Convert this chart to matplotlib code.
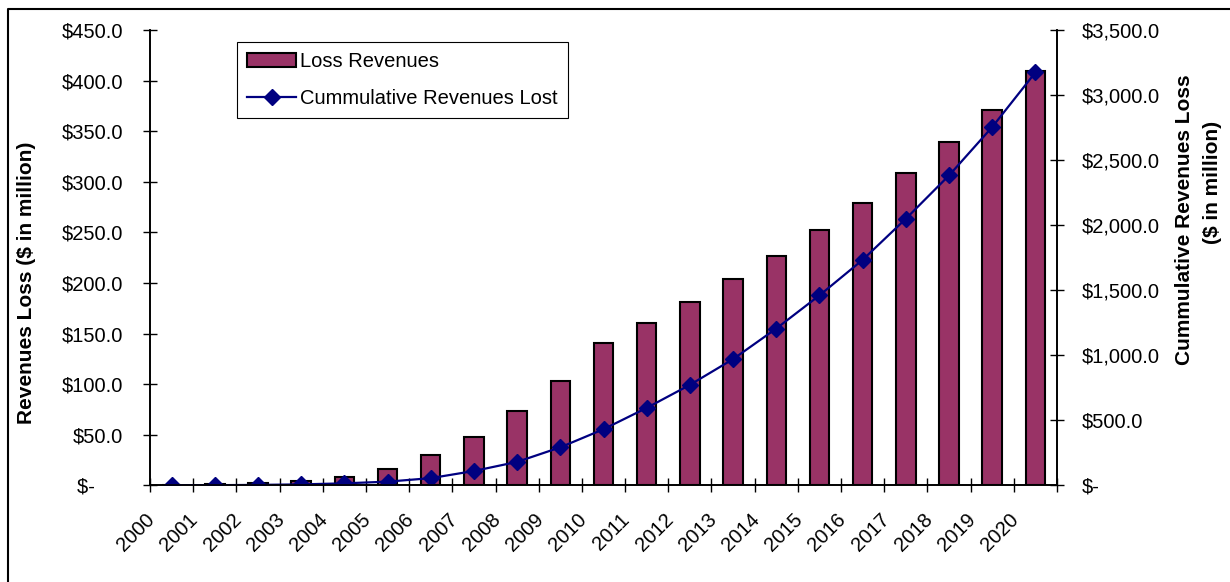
import numpy as np
import matplotlib.pyplot as plt
import matplotlib.transforms as mtransforms
from matplotlib.lines import Line2D

plt.rcParams['font.family'] = ['Liberation Sans', 'DejaVu Sans']

years = [str(y) for y in range(2000, 2021)]
loss_revenues = [0, 1.5, 2.5, 4.5, 8, 16.4, 30.2, 48, 73, 103, 140.5,
                 160.5, 181, 204, 227, 252, 279, 309, 339.5, 371, 409]
cumulative_lost = [0, 1, 3, 7, 15, 28, 55, 110, 180, 292, 431,
                   595, 772, 970, 1205, 1460, 1733, 2049, 2382, 2754, 3174]

left_ticks = [0, 50, 100, 150, 200, 250, 300, 350, 400, 450]
right_ticks = [0, 500, 1000, 1500, 2000, 2500, 3000, 3500]

bar_color = '#993366'
line_color = '#000080'
fs = 14.5
title_fs = 15

fig = plt.figure(figsize=(12.3, 5.82), dpi=100)
ax = fig.add_axes([150/1230, 1 - 485.3/582, 907/1230, 455.3/582])
ax2 = ax.twinx()

x = np.arange(len(years))
bars = ax.bar(x, loss_revenues, width=0.45, color=bar_color,
              edgecolor='black', linewidth=1.5, label='Loss Revenues', zorder=2)
line, = ax2.plot(x, cumulative_lost, color=line_color, lw=1.6, marker='D',
                 markersize=8, label='Cummulative Revenues Lost')

ax.set_xlim(-0.5, len(years) - 0.5)
ax.set_ylim(0, 450)
ax2.set_ylim(0, 3500)

def money(v):
    if v == 0:
        return '$-'
    return '${:,.1f}'.format(v)

ax.set_yticks(left_ticks)
ax.set_yticklabels([money(v) + ('\u00a0' * 5 if v == 0 else '') for v in left_ticks])
ax2.set_yticks(right_ticks)
ax2.set_yticklabels([money(v) for v in right_ticks])

# category labels at the centres, tick marks on the boundaries
ax.set_xticks(x)
ax.set_xticklabels(years, rotation=45, ha='right')
ax.set_xticks(np.arange(len(years) + 1) - 0.5, minor=True)
ax.tick_params(axis='x', which='major', length=0, pad=18, labelsize=fs)
ax.tick_params(axis='x', which='minor', direction='inout', length=10.5, width=1)
shift = mtransforms.ScaledTranslation(-13/100, 0, fig.dpi_scale_trans)
for lbl in ax.get_xticklabels():
    lbl.set_transform(lbl.get_transform() + shift)

ax.tick_params(axis='y', direction='inout', length=10, width=1, pad=14.4, labelsize=fs)
ax2.tick_params(axis='y', direction='inout', length=10, width=1, pad=13, labelsize=fs)

for a in (ax, ax2):
    a.spines['top'].set_visible(False)
    for s in ('left', 'right', 'bottom'):
        a.spines[s].set_linewidth(1.2)

fig.text(27/1230, 1 - 283/582, 'Revenues Loss ($ in million)', rotation=90,
         ha='center', va='center', fontsize=title_fs, fontweight='bold')
fig.text(1184/1230, 1 - 220/582, 'Cummulative Revenues Loss', rotation=90,
         ha='center', va='center', fontsize=title_fs, fontweight='bold')
fig.text(1213/1230, 1 - 182/582, '($ in million)', rotation=90,
         ha='center', va='center', fontsize=title_fs, fontweight='bold')

leg = ax2.legend(handles=[bars, line], loc='upper left',
                 bbox_to_anchor=((237 - 150)/907, (485.3 - 42)/455.3),
                 fontsize=fs, frameon=True, fancybox=False, framealpha=1,
                 edgecolor='black', borderpad=0.5, handlelength=2.45,
                 handletextpad=0.2, labelspacing=0.9, borderaxespad=0)
leg.get_frame().set_linewidth(0.8)

# frame lines along the left and top edge
fx0, fy1 = 8/1230, 1 - 9/582
fig.add_artist(Line2D([fx0, fx0, 1.01], [-0.01, fy1, fy1],
                      color='black', lw=1.5, transform=fig.transFigure))

fig.savefig('out.png', dpi=100)
